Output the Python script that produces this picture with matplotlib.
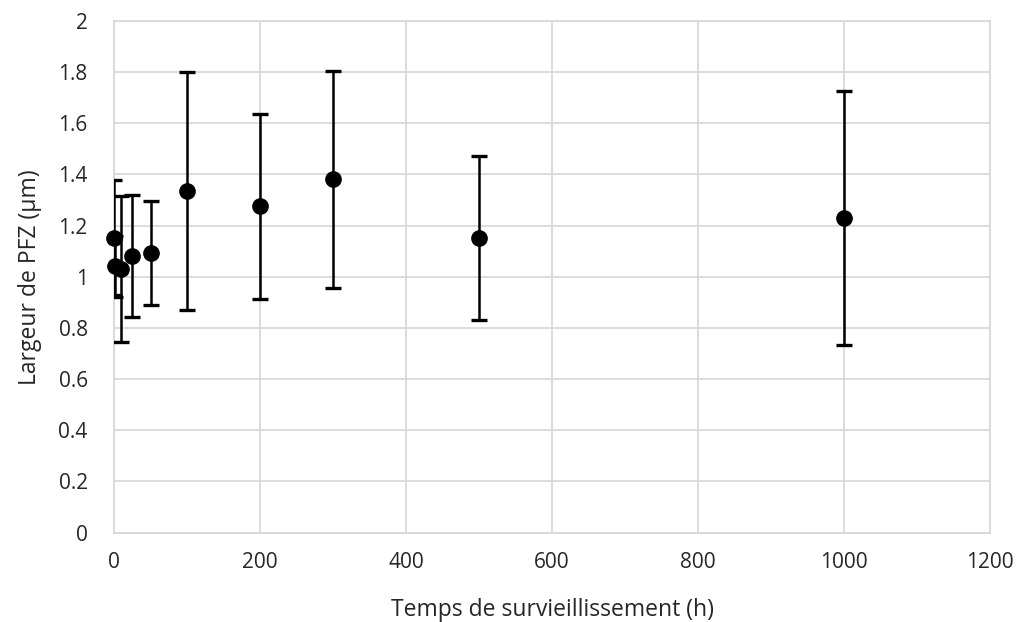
import numpy as np
import matplotlib
matplotlib.use("Agg")
import matplotlib.pyplot as plt
from matplotlib.ticker import FuncFormatter

# données
temps = [0, 1, 10, 25, 50, 100, 200, 300, 500, 1000]
largeur = [1.152, 1.040, 1.030, 1.081, 1.092, 1.336, 1.275, 1.380, 1.150, 1.230]
erreur = [0.225, 0.120, 0.285, 0.240, 0.204, 0.465, 0.362, 0.425, 0.320, 0.495]

plt.rcParams['font.family'] = ['Open Sans', 'DejaVu Sans']

fig = plt.figure(figsize=(10.21, 6.22), dpi=100)
ax = fig.add_axes([0.1117, 0.1436, 0.858, 0.823])

ax.errorbar(temps, largeur, yerr=erreur, fmt='none', ecolor='black',
            elinewidth=1.8, capsize=6, capthick=2.4, zorder=3)
ax.plot(temps, largeur, 'o', color='black', markersize=11, zorder=4, clip_on=False)

ax.set_xlim(0, 1200)
ax.set_ylim(0, 2)
ax.set_xticks(np.arange(0, 1201, 200))
ax.set_yticks(np.arange(0, 2.01, 0.2))
ax.yaxis.set_major_formatter(FuncFormatter(lambda v, p: '%g' % round(v, 1)))
ax.grid(True, color='#D9D9D9', linewidth=1.3)
ax.set_axisbelow(True)
for s in ax.spines.values():
    s.set_color('#D9D9D9')
    s.set_linewidth(1.3)
ax.tick_params(length=0, labelsize=15, labelcolor='#262626')
ax.tick_params(axis='y', pad=19)
ax.tick_params(axis='x', pad=14)

ax.set_xlabel("Temps de survieillissement (h)", fontsize=16.5, color='#262626', labelpad=18)
ax.set_ylabel("Largeur de PFZ (µm)", fontsize=16.5, color='#262626', labelpad=12)

fig.savefig("out.png", dpi=100)
